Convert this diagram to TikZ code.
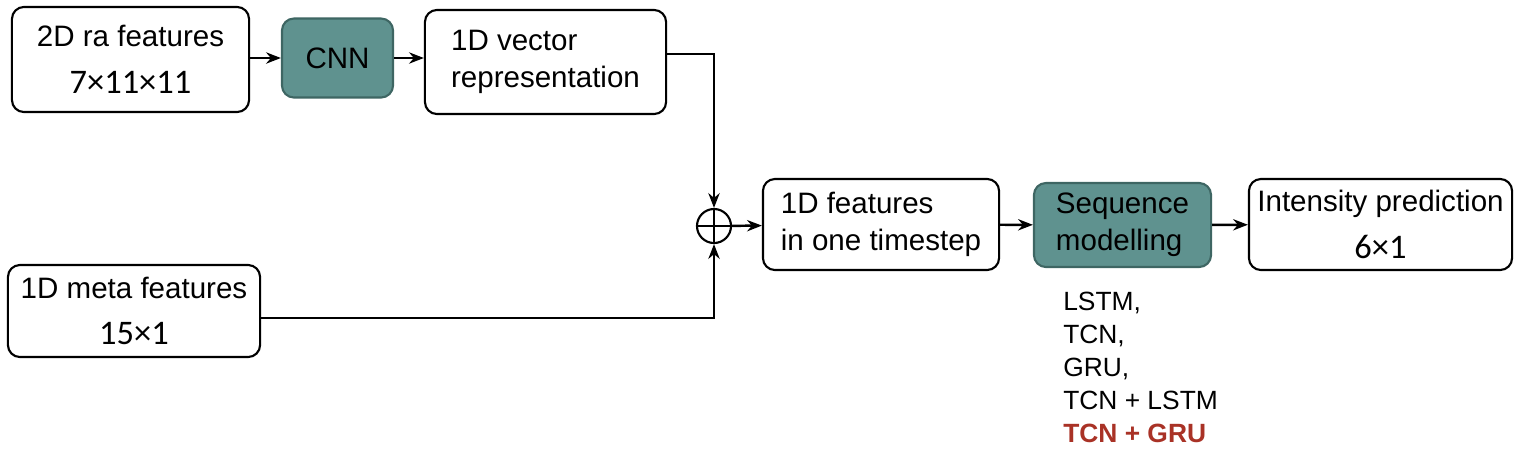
\documentclass[tikz,border=0pt]{standalone}
\usepackage{fontspec}
\setmainfont{Liberation Sans}
\newfontfamily\dimfont{Carlito}
\usepackage{xcolor}
\usetikzlibrary{positioning}
\usetikzlibrary{arrows.meta}
\definecolor{seqteal}{RGB}{95,146,143}
\definecolor{seqedge}{RGB}{62,102,99}
\definecolor{bestred}{RGB}{169,50,38}

\begin{document}
\begin{tikzpicture}[->,>={Stealth[length=4.2pt,width=3.2pt]},x=0.01cm,y=-0.01cm,line width=0.7pt,
                    font=\fontsize{8.4}{10.4}\selectfont,
                    block/.style={draw,rounded corners=0.12cm,inner sep=0pt,line width=0.6pt},
                    learner/.style={block,fill=seqteal,draw=seqedge}]
\useasboundingbox (0,0) rectangle (1528,454);
\node[block,minimum width=2.37cm,minimum height=1.05cm,align=center] (ra) at (130.5,59.5)
     {2D ra features\\[0.1cm]{\dimfont\fontsize{9.8}{11}\selectfont 7×11×11}};
\node[learner,minimum width=1.11cm,minimum height=0.79cm] (cnn) at (337.5,58) {CNN};
\node[block,minimum width=2.41cm,minimum height=1.04cm,align=left] (vec) at (545.5,62)
     {1D vector\\representation};
\node[block,minimum width=2.52cm,minimum height=0.92cm,align=center] (meta) at (134,311)
     {1D meta features\\[0.1cm]{\dimfont\fontsize{9.8}{11}\selectfont 15×1}};
\node[draw,circle,minimum size=0.34cm,inner sep=0pt,line width=0.6pt] (sum) at (714,226) {};
\draw[-,line width=0.6pt] (sum.north) -- (sum.south) (sum.west) -- (sum.east);
\node[block,minimum width=2.36cm,minimum height=0.91cm,align=left] (feat) at (881,224.5)
     {1D features\\in one timestep};
\node[learner,minimum width=1.77cm,minimum height=0.84cm,align=left] (seq) at (1122.5,225)
     {Sequence\\modelling};
\node[block,minimum width=2.63cm,minimum height=0.91cm,align=center] (out) at (1380.5,224.5)
     {Intensity prediction\\[0.1cm]{\dimfont\fontsize{9.8}{11}\selectfont 6×1}};
\node[align=left,anchor=north west,inner sep=0pt,font=\fontsize{7.5}{9.4}\selectfont]
     (variants) at (1062,291)
     {LSTM,\\TCN,\\GRU,\\TCN + LSTM\\\textcolor{bestred}{\bfseries TCN + GRU}};
\draw (ra.east |- cnn) -- (cnn);
\draw (cnn) -- (vec.west |- cnn);
\draw ([yshift=0.08cm]vec.east) -| (sum.north);
\draw ([yshift=-0.07cm]meta.east) -| (sum.south);
\path (sum) edge (feat)
      (feat) edge (seq)
      (seq) edge (out);
\end{tikzpicture}
\end{document}
